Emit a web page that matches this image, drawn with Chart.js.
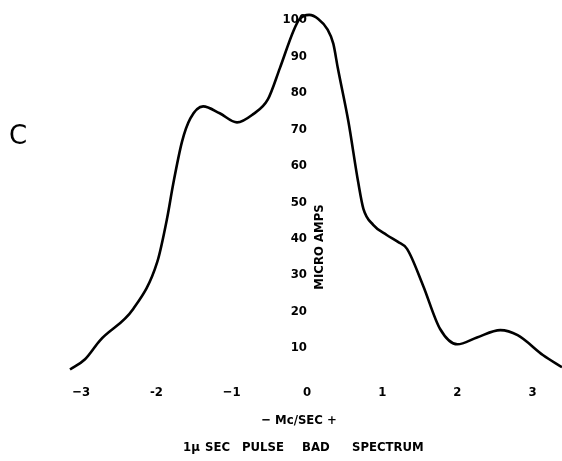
<!DOCTYPE html>
<html>
<head>
<meta charset="utf-8">
<script src="https://cdn.jsdelivr.net/npm/chart.js@4/dist/chart.umd.min.js"></script>
<style>
  html, body { margin: 0; padding: 0; background: #fff; }
  #wrap { position: relative; width: 562px; height: 461px; }
</style>
</head>
<body>
<div id="wrap"><canvas id="c" width="562" height="461"></canvas></div>
<script>
// Frequency offset (Mc/SEC) and current (micro amps)
const freqs = [-3.15, -2.95, -2.75, -2.31, -1.99, -1.86, -1.78, -1.66, -1.55, -1.38, -1.16, -0.93, -0.72, -0.52, -0.36, -0.18, -0.10, 0.03, 0.15, 0.27, 0.35, 0.41, 0.55, 0.68, 0.75, 0.88, 1.06, 1.21, 1.33, 1.54, 1.77, 2.00, 2.26, 2.57, 2.80, 3.14, 3.39];
const amps  = [4.1, 6.9, 12.1, 20.7, 33.6, 45.5, 54.8, 66.7, 73.0, 76.3, 74.4, 71.9, 74.1, 78.2, 86.8, 97.0, 100.2, 101.4, 100.3, 97.5, 93.5, 86.8, 72.2, 55.6, 48.2, 43.8, 41.0, 39.1, 37.2, 27.3, 15.2, 11.0, 12.9, 14.9, 13.5, 8.0, 4.7];

const xTicks = [-3, -2, -1, 0, 1, 2, 3];
const xTickLabels = ['\u22123', '-2', '\u22121', '0', '1', '2', '3'];
const yTicks = [10, 20, 30, 40, 50, 60, 70, 80, 90, 100];

const panelLabel = 'C';
const yTitle = 'MICRO AMPS';
const xTitle = '\u2212 Mc/SEC +';
const captionWords = ['1\u03bc', 'SEC', 'PULSE', 'BAD', 'SPECTRUM'];

const FONT = '"DejaVu Sans Condensed", "DejaVu Sans", sans-serif';

const textPlugin = {
  id: 'annotText',
  afterDraw(chart) {
    const ctx = chart.ctx;
    const xs = chart.scales.x;
    ctx.save();
    ctx.fillStyle = '#000';
    // panel letter
    ctx.font = '26px "DejaVu Sans", sans-serif';
    ctx.textAlign = 'center';
    ctx.textBaseline = 'middle';
    ctx.fillText(panelLabel, 18, 137);
    // vertical axis title to the right of the axis
    ctx.font = 'bold 13px ' + FONT;
    ctx.save();
    ctx.translate(xs.getPixelForValue(0) + 13, 247);
    ctx.rotate(-Math.PI / 2);
    ctx.fillText(yTitle, 0, 0);
    ctx.restore();
    // bottom titles
    ctx.font = 'bold 13px ' + FONT;
    ctx.fillText(xTitle, 299, 421);
    const starts = [183, 205, 242, 302, 352];
    ctx.textAlign = 'left';
    captionWords.forEach((w, i) => ctx.fillText(w, starts[i], 448));
    ctx.restore();
  }
};

new Chart(document.getElementById('c'), {
  type: 'line',
  data: {
    datasets: [{
      data: freqs.map((f, i) => ({ x: f, y: amps[i] })),
      borderColor: '#000',
      borderWidth: 2.6,
      pointRadius: 0,
      fill: false,
      tension: 0.4,
      cubicInterpolationMode: 'monotone',
      clip: false
    }]
  },
  options: {
    responsive: false,
    animation: false,
    events: [],
    layout: { padding: { left: 70, right: 0, top: 20, bottom: 57 } },
    plugins: { legend: { display: false }, tooltip: { enabled: false }, title: { display: false } },
    scales: {
      x: {
        type: 'linear',
        min: -3.15,
        max: 3.39,
        grid: { display: false, drawTicks: false },
        border: { display: false },
        afterBuildTicks: s => { s.ticks = xTicks.map(v => ({ value: v })); },
        afterFit: s => { s.height = 19.6; },
        ticks: {
          autoSkip: false,
          maxRotation: 0,
          padding: 0,
          color: '#000',
          font: { family: FONT, size: 13, weight: 'bold' },
          callback: v => xTickLabels[xTicks.indexOf(v)]
        }
      },
      y: {
        type: 'linear',
        min: 0,
        max: 100,
        position: { x: 0 },
        z: 1,
        grid: { display: false, drawTicks: false },
        border: { display: false },
        afterBuildTicks: s => { s.ticks = yTicks.map(v => ({ value: v })); },
        ticks: {
          color: '#000',
          font: { family: FONT, size: 13, weight: 'bold' },
          showLabelBackdrop: true,
          backdropColor: '#fff',
          backdropPadding: 1,
          callback: v => String(v)
        }
      }
    }
  },
  plugins: [textPlugin]
});
</script>
</body>
</html>
